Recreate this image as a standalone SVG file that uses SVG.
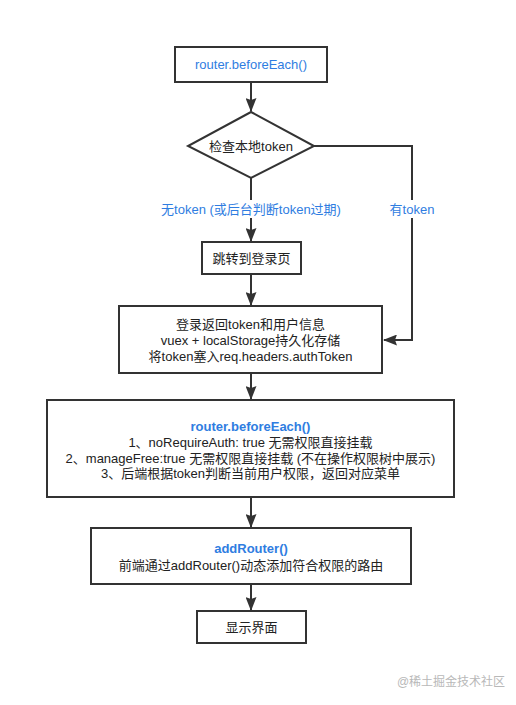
<svg xmlns="http://www.w3.org/2000/svg" width="516" height="705" viewBox="0 0 516 705">
<style>
.box{fill:#fff;stroke:#333;stroke-width:2}
.ln{fill:none;stroke:#333;stroke-width:2}
text{font-family:"Liberation Sans","Noto Sans CJK SC",sans-serif;font-size:13px;fill:#222;text-anchor:middle}
.blue{fill:#2f7de1}
.b{font-weight:bold}
.lbl{fill:#2f7de1}
.wm{fill:#b8b8b8;font-size:12px}
</style>
<defs>
<marker id="ah" viewBox="0 0 14 11" refX="13" refY="5.5" markerWidth="14" markerHeight="11" orient="auto" markerUnits="userSpaceOnUse">
<path d="M0,0 L14,5.5 L0,11 L2,5.5 z" fill="#333"/>
</marker>
</defs>
<rect width="516" height="705" fill="#fff"/>
<g id="connectors">
<line class="ln" x1="251" y1="82" x2="251" y2="111" marker-end="url(#ah)"/>
<line class="ln" x1="251" y1="178" x2="251" y2="241" marker-end="url(#ah)"/>
<polyline class="ln" points="314,146 412,146 412,340 384,340" marker-end="url(#ah)"/>
<line class="ln" x1="251" y1="274" x2="251" y2="305" marker-end="url(#ah)"/>
<line class="ln" x1="251" y1="373" x2="251" y2="399" marker-end="url(#ah)"/>
<line class="ln" x1="251" y1="497" x2="251" y2="527" marker-end="url(#ah)"/>
<line class="ln" x1="251" y1="584" x2="251" y2="610" marker-end="url(#ah)"/>
<rect x="153" y="200" width="197" height="18" fill="#fff"/>
<text class="lbl" x="251" y="213.5">无token (或后台判断token过期)</text>
<rect x="386" y="200" width="53" height="18" fill="#fff"/>
<text class="lbl" x="412" y="213.5">有token</text>
</g>
<g id="n1">
<rect class="box" x="175" y="47" width="152" height="35"/>
<text class="blue" x="251" y="69">router.beforeEach()</text>
</g>
<g id="n2">
<polygon class="box" points="251,112 314,146 251,178 188,146"/>
<text x="251" y="150.5">检查本地token</text>
</g>
<g id="n3">
<rect class="box" x="202" y="242" width="99" height="32"/>
<text x="251.5" y="262.5">跳转到登录页</text>
</g>
<g id="n4">
<rect class="box" x="119" y="306" width="263" height="67"/>
<text x="250.5" y="328.5">登录返回token和用户信息</text>
<text x="250.5" y="345">vuex + localStorage持久化存储</text>
<text x="250.5" y="361">将token塞入req.headers.authToken</text>
</g>
<g id="n5">
<rect class="box" x="47" y="400" width="407" height="97"/>
<text class="blue b" x="250.5" y="430.5">router.beforeEach()</text>
<text x="250.5" y="446.5">1、noRequireAuth: true 无需权限直接挂载</text>
<text x="250.5" y="462.5">2、manageFree:true 无需权限直接挂载 (不在操作权限树中展示)</text>
<text x="250.5" y="478">3、后端根据token判断当前用户权限，返回对应菜单</text>
</g>
<g id="n6">
<rect class="box" x="91" y="528" width="320" height="56"/>
<text class="blue b" x="251" y="552.5">addRouter()</text>
<text x="251" y="569.5">前端通过addRouter()动态添加符合权限的路由</text>
</g>
<g id="n7">
<rect class="box" x="197" y="611" width="109" height="32"/>
<text x="251.5" y="631.5">显示界面</text>
</g>
<text class="wm" x="451" y="686">@稀土掘金技术社区</text>
</svg>
